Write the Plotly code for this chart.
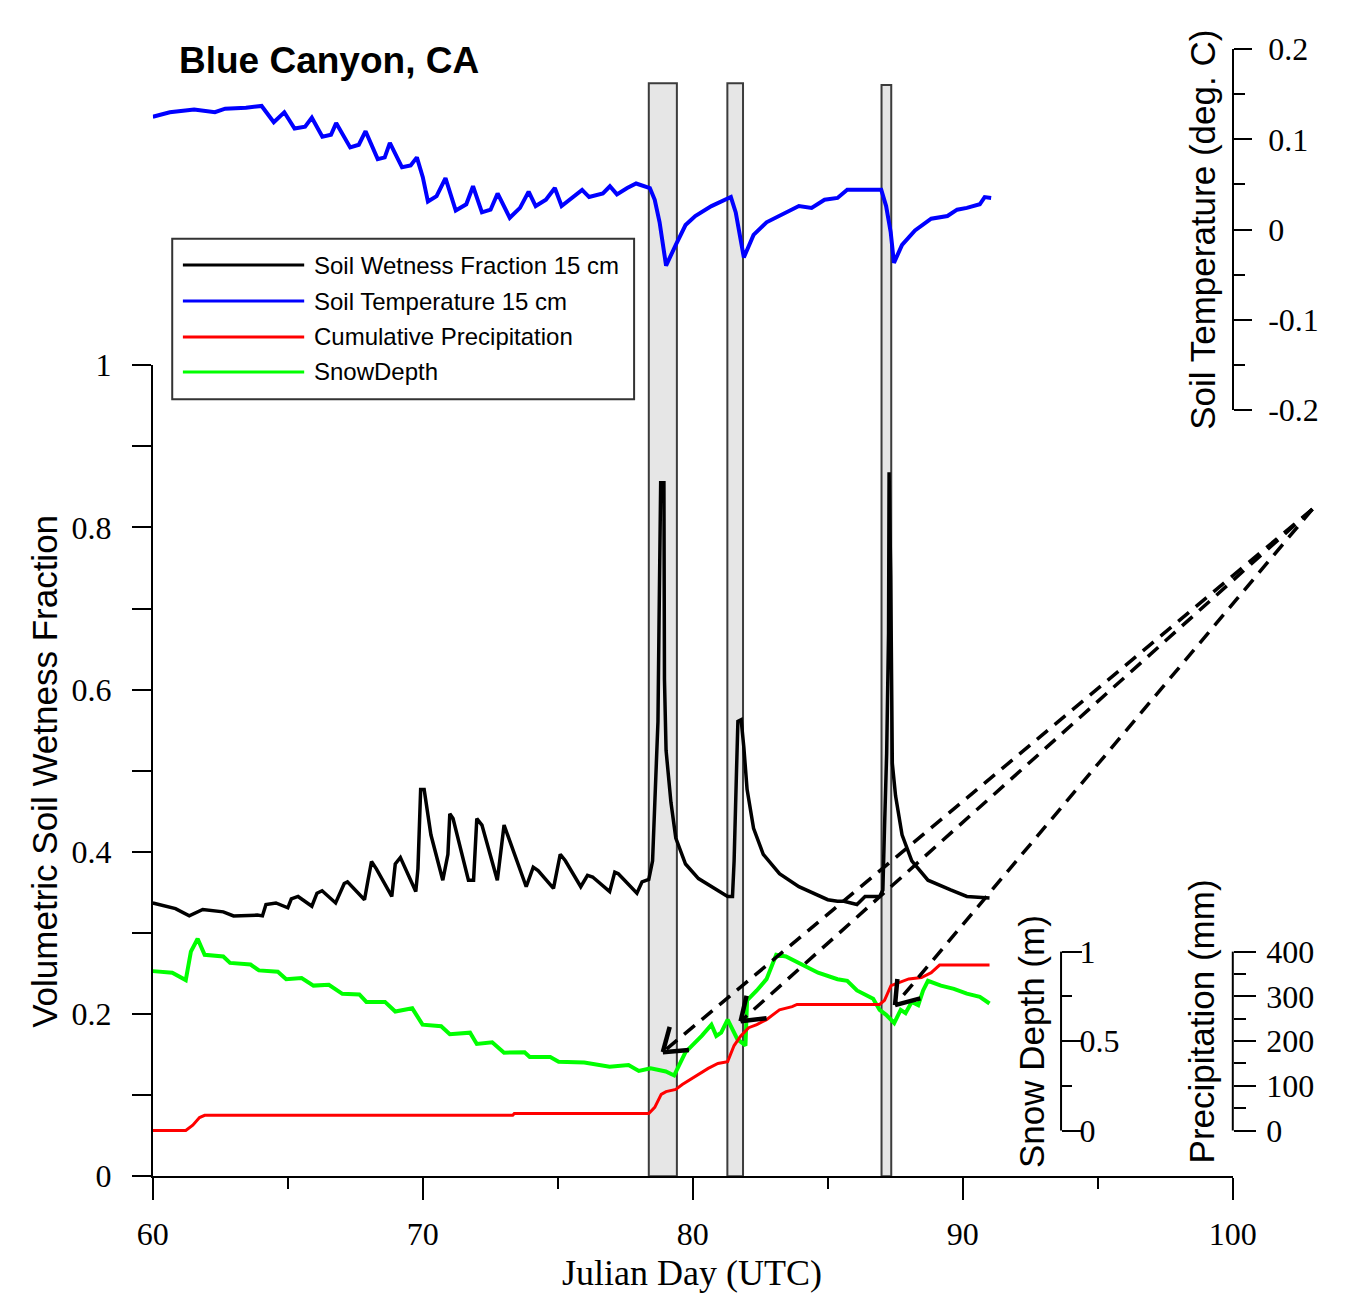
import math
import plotly.graph_objects as go

# ---------------- data ----------------
wet_day = [60.0, 60.84, 61.35, 61.85, 62.61, 62.99, 63.87, 64.06, 64.19, 64.56, 65.0, 65.13, 65.38, 65.89,
           66.08, 66.27, 66.77, 67.09, 67.21, 67.84, 67.97, 68.1, 68.28, 68.85, 68.98, 69.17, 69.74, 69.82,
           69.92, 70.05, 70.3, 70.74, 70.93, 71.0, 71.12, 71.69, 71.88, 72.0, 72.19, 72.76, 73.01, 73.14,
           73.83, 74.09, 74.27, 74.84, 75.09, 75.28, 75.85, 76.1, 76.29, 76.92, 77.11, 77.24, 77.93, 78.12,
           78.37, 78.51, 78.63, 78.71, 78.75, 78.81, 78.93, 78.95, 79.01, 79.19, 79.37, 79.73, 80.21, 80.81,
           81.29, 81.47, 81.53, 81.62, 81.67, 81.79, 81.89, 82.01, 82.25, 82.61, 83.21, 83.93, 85.0, 85.36,
           85.6, 86.08, 86.38, 86.92, 87.04, 87.1, 87.18, 87.25, 87.27, 87.33, 87.39, 87.51, 87.75, 88.11,
           88.71, 89.55, 90.15, 90.99]
wet_val = [0.337, 0.330, 0.321, 0.329, 0.326, 0.321, 0.322, 0.321, 0.335, 0.337, 0.331, 0.342, 0.345, 0.333,
           0.349, 0.352, 0.337, 0.361, 0.363, 0.341, 0.365, 0.388, 0.379, 0.345, 0.385, 0.393, 0.351, 0.379,
           0.477, 0.477, 0.421, 0.365, 0.397, 0.447, 0.441, 0.365, 0.365, 0.441, 0.433, 0.365, 0.433, 0.421,
           0.357, 0.381, 0.377, 0.355, 0.397, 0.389, 0.357, 0.371, 0.369, 0.351, 0.375, 0.373, 0.349, 0.363,
           0.366, 0.389, 0.501, 0.561, 0.685, 0.855, 0.855, 0.613, 0.525, 0.461, 0.417, 0.385, 0.367, 0.355,
           0.345, 0.345, 0.389, 0.501, 0.561, 0.563, 0.529, 0.477, 0.429, 0.397, 0.373, 0.357, 0.341, 0.339,
           0.339, 0.335, 0.345, 0.345, 0.353, 0.429, 0.521, 0.669, 0.868, 0.741, 0.509, 0.469, 0.421, 0.389,
           0.365, 0.353, 0.345, 0.343]

temp_day = [60.0, 60.63, 61.53, 62.3, 62.68, 63.45, 64.03, 64.48, 64.87, 65.25, 65.64, 65.89, 66.28, 66.6,
            66.79, 67.31, 67.63, 67.88, 68.33, 68.59, 68.78, 69.23, 69.55, 69.78, 70.0, 70.19, 70.51, 70.84,
            71.22, 71.61, 71.86, 72.19, 72.51, 72.77, 73.22, 73.6, 73.92, 74.18, 74.56, 74.89, 75.14, 75.59,
            75.9, 76.16, 76.67, 76.93, 77.19, 77.57, 77.9, 78.41, 78.59, 78.77, 79.01, 79.37, 79.73, 80.09,
            80.69, 81.41, 81.59, 81.89, 82.25, 82.73, 83.45, 83.93, 84.4, 84.88, 85.36, 85.72, 86.32, 86.98,
            87.16, 87.33, 87.45, 87.75, 88.23, 88.83, 89.43, 89.79, 90.15, 90.63, 90.81, 91.05]
temp_val = [0.125, 0.130, 0.133, 0.130, 0.134, 0.135, 0.137, 0.119, 0.130, 0.112, 0.114, 0.124, 0.103, 0.105,
            0.118, 0.091, 0.094, 0.109, 0.078, 0.080, 0.096, 0.069, 0.071, 0.080, 0.058, 0.031, 0.037, 0.057,
            0.021, 0.028, 0.048, 0.019, 0.022, 0.040, 0.013, 0.024, 0.042, 0.026, 0.033, 0.046, 0.026, 0.037,
            0.044, 0.036, 0.040, 0.048, 0.039, 0.046, 0.051, 0.046, 0.033, 0.008, -0.040, -0.017, 0.005, 0.015,
            0.026, 0.036, 0.019, -0.031, -0.006, 0.008, 0.019, 0.026, 0.024, 0.033, 0.035, 0.044, 0.044, 0.044,
            0.026, -0.003, -0.037, -0.017, -0.001, 0.012, 0.015, 0.022, 0.024, 0.028, 0.036, 0.035]

snow_day = [60.0, 60.72, 61.22, 61.41, 61.66, 61.92, 62.61, 62.86, 63.62, 63.93, 64.63, 64.94, 65.51, 65.95,
            66.52, 67.02, 67.65, 67.91, 68.6, 68.98, 69.61, 69.99, 70.68, 71.0, 71.75, 72.0, 72.57, 73.01,
            73.77, 73.96, 74.72, 75.03, 75.98, 76.92, 77.62, 78.0, 78.44, 79.0, 79.31, 79.49, 79.73, 80.09,
            80.33, 80.69, 80.87, 81.05, 81.29, 81.65, 81.95, 82.01, 82.37, 82.73, 82.97, 83.09, 83.45, 83.93,
            84.64, 85.36, 85.72, 86.08, 86.68, 86.92, 87.16, 87.46, 87.7, 87.88, 88.11, 88.35, 88.53, 88.71,
            89.19, 89.67, 90.15, 90.63, 90.99]
snow_val = [0.891, 0.882, 0.841, 1.0, 1.072, 0.982, 0.973, 0.937, 0.928, 0.895, 0.888, 0.846, 0.852, 0.810,
            0.815, 0.764, 0.761, 0.719, 0.719, 0.665, 0.683, 0.592, 0.583, 0.538, 0.547, 0.484, 0.493, 0.435,
            0.438, 0.411, 0.411, 0.384, 0.380, 0.357, 0.366, 0.333, 0.348, 0.330, 0.308, 0.366, 0.438, 0.493,
            0.529, 0.592, 0.529, 0.547, 0.620, 0.511, 0.475, 0.728, 0.783, 0.846, 0.928, 0.982, 0.973, 0.937,
            0.882, 0.846, 0.837, 0.783, 0.737, 0.674, 0.647, 0.601, 0.674, 0.656, 0.719, 0.701, 0.783, 0.837,
            0.810, 0.792, 0.765, 0.747, 0.710]

precip_day = [60.0, 61.22, 61.48, 61.73, 61.92, 73.33, 73.39, 78.37, 78.59, 78.83, 79.01, 79.37, 79.61, 80.09,
              80.57, 80.93, 81.29, 81.53, 81.77, 82.07, 82.37, 82.73, 83.21, 83.68, 83.86, 86.92, 87.1, 87.34,
              87.64, 88.0, 88.47, 88.83, 89.14, 90.99]
precip_val = [0, 0, 12, 29, 34, 34, 38, 38, 52, 81, 87, 92, 103, 121, 139, 150, 154, 190, 211, 230, 237, 248,
              270, 277, 282, 282, 291, 324, 331, 339, 342, 353, 370, 370]

# storm periods (shaded), Julian day start/end
storm_start = [78.37, 81.28, 86.99]
storm_end = [79.41, 81.86, 87.35]

# arrows: tips (day, wetness-axis value) and common origin
arrow_tip_day = [78.89, 81.77, 87.49]
arrow_tip_val = [0.153, 0.191, 0.211]
arrow_origin = (102.95, 0.8225)

# tick labels
x_ticks = [60, 70, 80, 90, 100]
x_minor = [65, 75, 85, 95]
wet_ticks = [0, 0.2, 0.4, 0.6, 0.8, 1]
wet_ticktext = ["0", "0.2", "0.4", "0.6", "0.8", "1"]
wet_minor = [0.1, 0.3, 0.5, 0.7, 0.9]
temp_ticks = [-0.2, -0.1, 0, 0.1, 0.2]
temp_ticktext = ["-0.2", "-0.1", "0", "0.1", "0.2"]
temp_minor = [-0.15, -0.05, 0.05, 0.15]
snow_ticks = [0, 0.5, 1]
snow_ticktext = ["0", "0.5", "1"]
snow_minor = [0.25, 0.75]
precip_ticks = [0, 100, 200, 300, 400]
precip_ticktext = ["0", "100", "200", "300", "400"]
precip_minor = [50, 150, 250, 350]

legend_labels = ["Soil Wetness Fraction 15 cm", "Soil Temperature 15 cm", "Cumulative Precipitation", "SnowDepth"]
legend_colors = ["#000000", "#0000ff", "#ff0000", "#00ff00"]

# ---------------- layout geometry (pixels) ----------------
W, H = 1348, 1310
X0, X1 = 141, 1254          # day 60 / day 100
Y0, Y1 = 1191, 357          # wetness 0 / 1
T_BOT, T_TOP = 403, 32      # temperature -0.2 / 0.2
SP0, SP1 = 1144, 960        # snow/precip 0 / full
SNOW_X = 1077
XMIN, XMAX = 60, 100


def fx(px):
    return px / W


def fy(py):
    return 1 - py / H


def day_px(d):
    return X0 + (d - XMIN) * (X1 - X0) / (XMAX - XMIN)


def wet_py(v):
    return Y0 - v * (Y0 - Y1)


snow_lo = -(Y0 - SP0) / (SP0 - SP1)
snow_hi = (SP0 - Y1) / (SP0 - SP1)
prec_lo = snow_lo * 400
prec_hi = snow_hi * 400

SERIF = "Liberation Serif, Times New Roman, serif"
SANS = "Liberation Sans, Arial, sans-serif"

fig = go.Figure()
fig.add_trace(go.Scatter(x=precip_day, y=precip_val, yaxis="y4", mode="lines",
                         line=dict(color="#ff0000", width=3), showlegend=False))
fig.add_trace(go.Scatter(x=snow_day, y=snow_val, yaxis="y3", mode="lines",
                         line=dict(color="#00ff00", width=4), showlegend=False))
fig.add_trace(go.Scatter(x=wet_day, y=wet_val, yaxis="y", mode="lines",
                         line=dict(color="#000000", width=3.5), showlegend=False))
fig.add_trace(go.Scatter(x=temp_day, y=temp_val, yaxis="y2", mode="lines",
                         line=dict(color="#0000ff", width=4), showlegend=False))

shapes = []
# shaded storm periods
tops = [67, 67, 69]
for s, e, t in zip(storm_start, storm_end, tops):
    shapes.append(dict(type="rect", xref="x", yref="paper", x0=s, x1=e, y0=fy(Y0), y1=fy(t),
                       fillcolor="#e6e6e6", line=dict(color="#3c3c3c", width=2), layer="below"))

# snow and precipitation axis lines (only over the labelled span)
shapes.append(dict(type="line", xref="paper", yref="y3", x0=fx(SNOW_X), x1=fx(SNOW_X), y0=0, y1=1,
                   line=dict(color="black", width=2)))
shapes.append(dict(type="line", xref="paper", yref="y4", x0=fx(X1), x1=fx(X1), y0=0, y1=400,
                   line=dict(color="black", width=2)))

# dashed arrows
ox, oy = day_px(arrow_origin[0]), wet_py(arrow_origin[1])
for d, v in zip(arrow_tip_day, arrow_tip_val):
    tx, ty = day_px(d), wet_py(v)
    shapes.append(dict(type="line", xref="paper", yref="paper", x0=fx(ox), y0=fy(oy), x1=fx(tx), y1=fy(ty),
                       line=dict(color="black", width=3.5, dash="14px,9px"), layer="above"))
    ux, uy = ox - tx, oy - ty
    n = math.hypot(ux, uy)
    ux, uy = ux / n, uy / n
    for ang in (math.radians(35), math.radians(-35)):
        wx = ux * math.cos(ang) - uy * math.sin(ang)
        wy = ux * math.sin(ang) + uy * math.cos(ang)
        shapes.append(dict(type="line", xref="paper", yref="paper", x0=fx(tx), y0=fy(ty),
                           x1=fx(tx + 27 * wx), y1=fy(ty + 27 * wy),
                           line=dict(color="black", width=4.5), layer="above"))

# legend box
shapes.append(dict(type="rect", xref="paper", yref="paper", x0=fx(161), x1=fx(637), y0=fy(392), y1=fy(227),
                   fillcolor="white", line=dict(color="#333333", width=2), layer="above"))
annotations = []
row_y = [254, 291, 328, 364]
for lab, col, ry in zip(legend_labels, legend_colors, row_y):
    shapes.append(dict(type="line", xref="paper", yref="paper", x0=fx(172), x1=fx(297), y0=fy(ry), y1=fy(ry),
                       line=dict(color=col, width=3), layer="above"))
    annotations.append(dict(x=fx(305), y=fy(ry), xref="paper", yref="paper", text=lab, showarrow=False,
                            xanchor="left", yanchor="middle", font=dict(family=SANS, size=24, color="black")))

# titles
titles = [
    dict(x=fx(323), y=fy(44), text="<b>Blue Canyon, CA</b>", font=dict(family=SANS, size=37, color="black")),
    dict(x=fx(30), y=fy(775), text="Volumetric Soil Wetness Fraction", textangle=-90,
         font=dict(family=SANS, size=35, color="black")),
    dict(x=fx(697), y=fy(1290), text="Julian Day (UTC)", font=dict(family=SERIF, size=36, color="black")),
    dict(x=fx(1222), y=fy(218), text="Soil Temperature (deg. C)", textangle=-90,
         font=dict(family=SANS, size=35, color="black")),
    dict(x=fx(1046), y=fy(1052), text="Snow Depth (m)", textangle=-90,
         font=dict(family=SANS, size=35, color="black")),
    dict(x=fx(1222), y=fy(1032), text="Precipitation (mm)", textangle=-90,
         font=dict(family=SANS, size=35, color="black")),
]
for a in titles:
    a.update(xref="paper", yref="paper", showarrow=False, xanchor="center", yanchor="middle")
annotations += titles

tickfont = dict(family=SERIF, size=32, color="black")
common = dict(showgrid=False, zeroline=False, ticks="outside", tickcolor="black", tickwidth=2,
              tickfont=tickfont, tickmode="array")

fig.update_layout(
    width=W, height=H, margin=dict(l=0, r=0, t=0, b=0),
    paper_bgcolor="white", plot_bgcolor="rgba(0,0,0,0)", showlegend=False,
    xaxis=dict(domain=[fx(X0), fx(X1)], range=[XMIN, XMAX], anchor="y", showline=True, linecolor="black",
               linewidth=2, tickvals=x_ticks, ticklen=22, ticklabelstandoff=6,
               minor=dict(tickvals=x_minor, ticklen=11, ticks="outside", tickcolor="black", tickwidth=2),
               **common),
    yaxis=dict(domain=[fy(Y0), fy(Y1)], range=[0, 1], anchor="x", showline=True, linecolor="black",
               linewidth=2, tickvals=wet_ticks, ticktext=wet_ticktext, ticklen=19, ticklabelstandoff=14,
               minor=dict(tickvals=wet_minor, ticklen=19, ticks="outside", tickcolor="black", tickwidth=2),
               **common),
    yaxis2=dict(domain=[fy(T_BOT), fy(T_TOP)], range=[-0.2, 0.2], anchor="free", position=fx(X1),
                side="right", showline=True, linecolor="black", linewidth=2, tickvals=temp_ticks,
                ticktext=temp_ticktext, ticklen=18, ticklabelstandoff=10,
                minor=dict(tickvals=temp_minor, ticklen=11, ticks="outside", tickcolor="black", tickwidth=2),
                **common),
    yaxis3=dict(overlaying="y", range=[snow_lo, snow_hi], anchor="free", position=fx(SNOW_X), side="right",
                showline=False, tickvals=snow_ticks, ticktext=snow_ticktext, ticklen=20, ticklabelstandoff=-9,
                minor=dict(tickvals=snow_minor, ticklen=10, ticks="outside", tickcolor="black", tickwidth=2),
                **common),
    yaxis4=dict(overlaying="y", range=[prec_lo, prec_hi], anchor="free", position=fx(X1), side="right",
                showline=False, tickvals=precip_ticks, ticktext=precip_ticktext, ticklen=22, ticklabelstandoff=4,
                minor=dict(tickvals=precip_minor, ticklen=12, ticks="outside", tickcolor="black", tickwidth=2),
                **common),
    shapes=shapes, annotations=annotations,
)

fig.write_html("out.html")
